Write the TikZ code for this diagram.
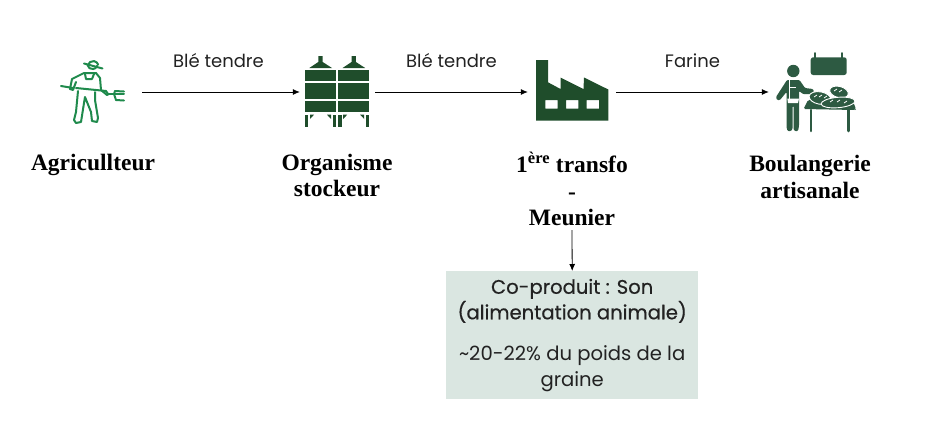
\documentclass[tikz,border=0pt]{standalone}
\usepackage{fontspec}
\setmainfont{Poppins}
\newfontfamily\medfont{Poppins}[FakeBold=0.5]
\newfontfamily\titlefont{Liberation Serif}[BoldFont={Liberation Serif Bold}]
\definecolor{farmgreen}{HTML}{1F8A4C}
\definecolor{silogreen}{HTML}{1F4D2B}
\definecolor{bakergreen}{HTML}{2D5A42}
\definecolor{boxfill}{HTML}{DAE6E1}
\definecolor{inktext}{HTML}{222222}
\usetikzlibrary{arrows.meta}
\tikzset{
  x=1pt,y=-1pt,
  iconbox/.style={inner sep=0pt,minimum width=#1,minimum height=90pt},
  flow/.style={-{Latex[length=7pt,width=6pt]},line width=0.8pt,black},
  flowlabel/.style={font=\fontsize{18}{20}\selectfont,text=inktext,inner sep=0pt},
  actor/.style={font=\titlefont\bfseries\fontsize{23.5}{26.5}\selectfont,text=black,align=center,inner sep=0pt},
  farmline/.style={draw=farmgreen,line width=2pt,line cap=round,line join=round},
  bakerline/.style={draw=bakergreen,line cap=round,line join=round},
  loaf/.style={fill=bakergreen,draw=white,line width=0.9pt},
}
\begin{document}
\begin{tikzpicture}
\useasboundingbox (0,0) rectangle (934,429);
% icon holders
\node[iconbox=84pt] (farmer) at (100,92) {};
\node[iconbox=75pt] (silo) at (337.5,92) {};
\node[iconbox=88pt] (factory) at (572,92) {};
\node[iconbox=90pt] (baker) at (814,92) {};
% farmer
\begin{scope}
\path[farmline] (84,63.5) -- (102.5,68.5);
\path[farmline] (87.5,65) arc[start angle=170,end angle=20,radius=5];
\path[farmline] (87.8,65.5) arc[start angle=190,end angle=340,radius=5.4];
\path[farmline] (61,86) -- (73,88);
\path[farmline] (76,88) -- (106,91) -- (108,94);
\path[farmline] (70,89) -- (72,79) -- (84,73) -- (96,73) -- (100,78) -- (101,90) -- (107,95) -- (109,94);
\path[farmline] (70,89) -- (73,90) -- (76,82);
\path[farmline] (85,74) -- (86,79) -- (92,79) -- (94,74);
\path[farmline] (78,91) -- (76,112) -- (74,120) -- (76,123) -- (81,122) -- (84,103) -- (85,97) -- (91,112) -- (92,121) -- (97,122) -- (98,118) -- (95,100) -- (95,92);
\path[farmline] (109,94) -- (124,94);
\path[farmline] (115,91) -- (124,91.5);
\path[farmline] (115,91) -- (114,94) -- (116,100);
\path[farmline] (116,100) -- (124,100.5);
\end{scope}
% silo
\foreach \dx in {0,33.2}{
  \begin{scope}[xshift=\dx pt]
  \fill[silogreen] (305,70) rectangle (336,80.7);
  \fill[silogreen] (305,82.7) rectangle (336,98.7);
  \fill[silogreen] (305,100.7) rectangle (336,112);
  \fill[silogreen] (318.3,56) -- (322.7,56) -- (322.7,62) -- (332,68) -- (309.3,68) -- (318.3,62) -- cycle;
  \fill[silogreen] (305,114.7) rectangle (308.3,127.3);
  \fill[silogreen] (332.7,114.7) rectangle (336,127.3);
  \fill[silogreen] (310,114.7) -- (314,114.7) -- (310,119) -- cycle;
  \fill[silogreen] (331,114.7) -- (327,114.7) -- (331,119) -- cycle;
  \end{scope}
}
% factory
\fill[even odd rule,silogreen]
  (536,60) -- (548,60) -- (548,82.3) -- (560.5,89) -- (560.5,77.5) -- (583.5,89) -- (584,77.5) -- (608.3,89.5) -- (608.3,120.7) -- (536,120.7) -- cycle
  (545.3,100) rectangle (557.7,108.7)
  (566,100) rectangle (578.3,108.7)
  (586.7,100) rectangle (599,108.7);
% baker
\fill[bakergreen] (793.3,71) circle (6.2);
\fill[bakergreen,rounded corners=2.5pt] (810.7,57.3) rectangle (846.7,75);
\path[bakerline,line width=1.8pt] (815,58) -- (815,53) (841.7,58) -- (841.7,53);
% baker body
\fill[bakergreen,rounded corners=1pt] (787,80) -- (799.5,80) -- (805,88) -- (813,89) -- (814,92) -- (811,94) -- (803,94) -- (799,91) -- (799,126) -- (798,131) -- (794.5,131) -- (793.5,129) -- (793.5,106) -- (792.5,106) -- (792.5,129) -- (791,131) -- (787.5,131) -- (786.5,127) -- (786.5,92) -- (780,100) -- (777,100) -- (776,97) -- cycle;
\fill[white] (788.5,80) rectangle (790,100);
\fill[white] (790,80) rectangle (795.5,88);
\fill[white] (787.3,98.5) -- (799,98.5) -- (798,103) -- (788,103) -- cycle;
\fill[bakergreen] (790,80) rectangle (795.5,87);
% table
\fill[bakergreen,rounded corners=1.5pt] (803.5,109) -- (808,100) -- (852,99) -- (856,109) -- (855,110) -- cycle;
\path[bakerline,line width=2.6pt] (811,110) -- (811,131) (848.3,110) -- (848.3,131);
% loaves
\filldraw[loaf] (820,98) ellipse[x radius=11,y radius=6.2,rotate=-10];
\filldraw[loaf] (839,92) ellipse[x radius=9.5,y radius=5.6,rotate=-15];
\filldraw[loaf] (838,102.5) ellipse[x radius=17,y radius=5.2,rotate=5];
\path[draw=white,line width=0.8pt] (814,97) -- (817,95) (819,97) -- (822,95) (824,98) -- (827,96)
  (834,91) -- (837,89) (839,92) -- (842,90) (830,102) -- (833,100) (837,102) -- (840,100) (844,103) -- (847,101);
% texts
\node[flowlabel] (l1) at (218.5,61) {Blé tendre};
\node[flowlabel] (l2) at (451.5,61) {Blé tendre};
\node[flowlabel] (l3) at (692.5,61) {Farine};
\node[actor] (a1) at (93,165) {Agricullteur};
\node[actor,anchor=north] (a2) at (337,153.5) {Organisme\\stockeur};
\node[actor,anchor=north] (a3) at (572,152) {1\textsuperscript{ère} transfo\\-\\Meunier};
\node[actor,anchor=north] (a4) at (810,155) {Boulangerie\\artisanale};
% box
\node[fill=boxfill,minimum width=252pt,minimum height=128pt,inner sep=0pt,anchor=north west,align=center,text=inktext,font=\fontsize{19.6}{25.5}\selectfont] (coprod) at (446,271)
 {{\medfont Co-produit : Son}\\{\medfont (alimentation animale)}\\[16pt]
  \textasciitilde 20-22\% du poids de la\\graine};
% connectors
\draw[flow] (farmer.east) -- (silo.west);
\draw[flow] (silo.east) -- (factory.west);
\draw[flow] (factory.east) -- (baker.west);
\draw[flow] (a3.south) ++(0,4) -- (coprod.north);
\end{tikzpicture}
\end{document}
